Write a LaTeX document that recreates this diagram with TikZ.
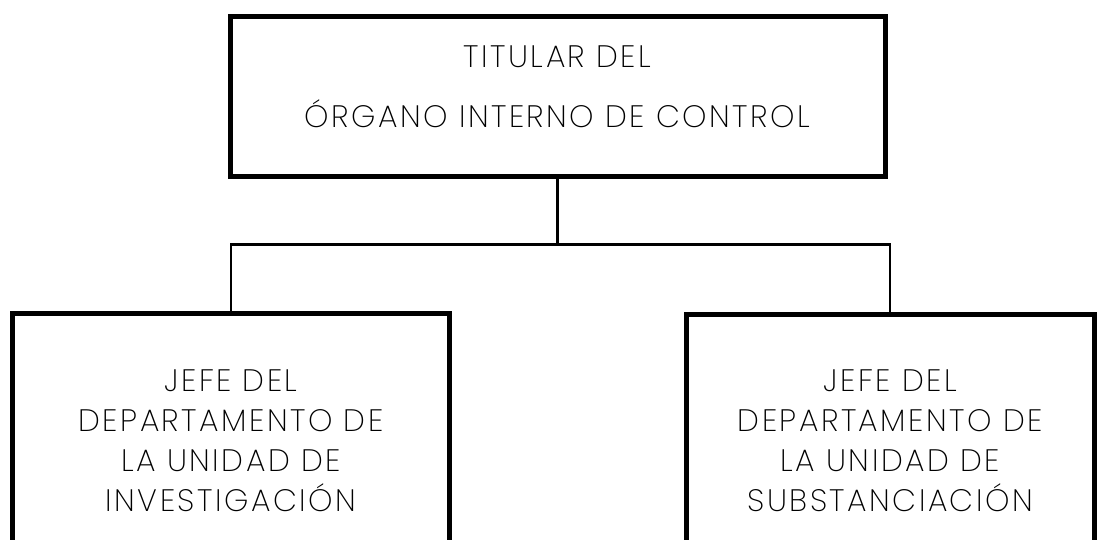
\documentclass[tikz,border=0pt]{standalone}
\usepackage{fontspec}
\setmainfont{Poppins}[UprightFont=* ExtraLight,LetterSpace=8]
\begin{document}
\begin{tikzpicture}[x=1pt,y=-1pt,
  box/.style={draw=black,line width=5pt,minimum width=#1,inner sep=0pt},
  conn/.style={draw=black,line width=2.4pt},
  lbl/.style={anchor=base,inner sep=0pt,font=\fontsize{31}{36}\selectfont}]
\useasboundingbox (0,0) rectangle (1104,539);
\clip (0,0) rectangle (1104,539);
\node[box=655pt,minimum height=159.5pt] (top) at (557.5,96.25) {};
\node[box=437pt,minimum height=280pt] (left) at (231,453.5) {};
\node[box=407.5pt,minimum height=280pt] (right) at (890.25,454.5) {};
\coordinate (bus) at (557.5,244.5);
\draw[conn] (top.south) -- (bus);
\draw[conn] (left.north) |- (bus) -| (right.north);
\node[lbl] (t1) at (557.5,67) {TITULAR DEL};
\node[lbl] (t2) at (557.5,127) {ÓRGANO INTERNO DE CONTROL};
\node[lbl] (l1) at (231,391) {JEFE DEL};
\node[lbl] (l2) at (231,431) {DEPARTAMENTO DE};
\node[lbl] (l3) at (231,471) {LA UNIDAD DE};
\node[lbl] (l4) at (231,511) {INVESTIGACIÓN};
\node[lbl] (r1) at (890.25,391) {JEFE DEL};
\node[lbl] (r2) at (890.25,431) {DEPARTAMENTO DE};
\node[lbl] (r3) at (890.25,471) {LA UNIDAD DE};
\node[lbl] (r4) at (890.25,511) {SUBSTANCIACIÓN};
\end{tikzpicture}
\end{document}
